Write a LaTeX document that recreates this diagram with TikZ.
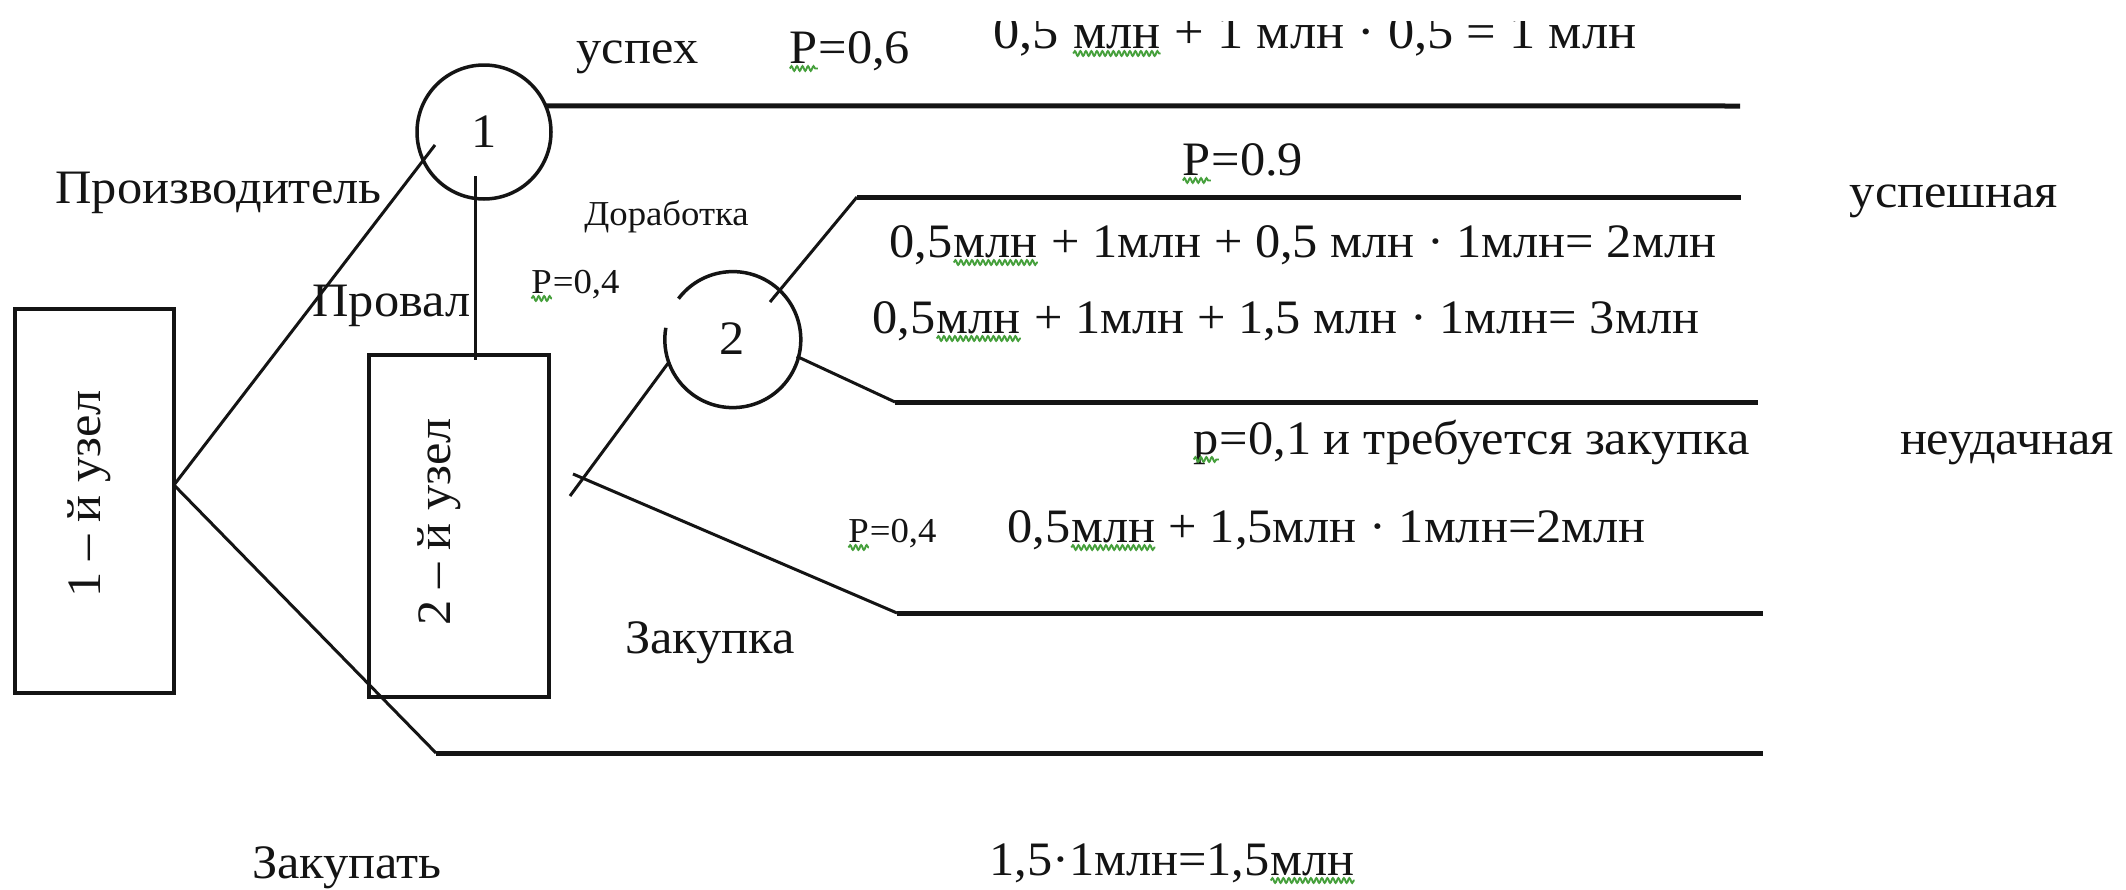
\documentclass[tikz,border=0pt]{standalone}
\usepackage{fontspec}
\setmainfont[FakeStretch=1.05]{Liberation Serif}
\usetikzlibrary{decorations.pathmorphing}

\definecolor{ink}{RGB}{20,20,20}
\definecolor{spell}{RGB}{70,160,60}

\tikzset{
  lbl/.style={inner sep=0pt, outer sep=0pt, anchor=base, text=ink,
    font=\fontsize{48}{56}\selectfont},
  lblsm/.style={lbl, font=\fontsize{35}{42}\selectfont},
  stage/.style={draw=ink, line width=4.5pt, inner sep=0pt, outer sep=0pt},
  chance/.style={circle, inner sep=0pt, outer sep=0pt, minimum size=134pt,
    text=ink, font=\fontsize{48}{56}\selectfont},
  ring/.style={draw=ink, line width=3.5pt},
  branch/.style={draw=ink, line width=3pt},
  rail/.style={draw=ink, line width=5pt},
  squig/.style={draw=spell, line width=1.9pt, decorate,
    decoration={snake, amplitude=2.4pt, segment length=5.5pt}}
}

% word marked with a wavy underline
\newcommand\spl[1]{\tikz[baseline=(w.base)]{%
  \node[inner sep=0pt, outer sep=0pt, anchor=base] (w) {#1};%
  \draw[squig] ([yshift=-5.5pt]w.base west) -- ([yshift=-5.5pt]w.base east);}}

\begin{document}
\begin{tikzpicture}[x=1pt, y=-1pt]
\fill[white] (0,0) rectangle (2126,889);
\useasboundingbox (0,0) rectangle (2126,889);

% decision boxes
\node[stage, minimum width=159pt, minimum height=384pt] (b1) at (94.5,501) {};
\node[lbl, anchor=center, rotate=90] (b1t) at (89,494) {1 – й узел};
\node[stage, minimum width=180pt, minimum height=342pt] (b2) at (459,526) {};
\node[lbl, anchor=center, rotate=90] (b2t) at (439,522) {2 – й узел};

% chance nodes
\node[chance] (c1) at (484,132) {1};
\draw[ring] (c1) circle[radius=67];
\node[chance] (c2) at (732,339) {2};
\draw[ring] (c2.143) arc[start angle=217, end angle=550, radius=68];

% branch points and line ends
\coordinate (f1) at (174,485);
\coordinate (c1in) at (435,145);
\coordinate (c1low) at (475,176);
\coordinate (b2top) at (475,360);
\coordinate (k5) at (436,753);
\coordinate (e5) at (1763,753);
\coordinate (e1) at (1740,106);
\coordinate (t2) at (570,496);
\coordinate (f2) at (573,474);
\coordinate (k4) at (897,613);
\coordinate (e4) at (1763,613);
\coordinate (c2in) at (770,302);
\coordinate (k2) at (857,197);
\coordinate (e2) at (1741,197);
\coordinate (k3) at (895,402);
\coordinate (e3) at (1758,402);

% first decision
\draw[branch] (f1) -- (c1in);
\draw[branch] (f1) -- (k5);
\draw[rail] (k5) -- (e5);
\draw[rail] (c1.23) -- (e1);
\draw[branch] (c1low) -- (b2top);

% second decision
\draw[branch] (t2) -- (c2.200);
\draw[branch] (f2) -- (k4);
\draw[rail] (k4) -- (e4);
\draw[branch] (c2in) -- (k2);
\draw[rail] (k2) -- (e2);
\draw[branch] (c2.-15) -- (k3);
\draw[rail] (k3) -- (e3);

% labels
\node[lbl] (uspeh) at (637.5,63) {успех};
\node[lbl] (p06) at (849.5,63) {\spl{Р}=0,6};
\begin{scope}
  \clip (0,21) rectangle (2126,120);
  \node[lbl, font=\fontsize{50}{58}\selectfont] (v1) at (1315,48)
    {0,5 \spl{млн} + 1 млн · 0,5 = 1 млн};
\end{scope}
\node[lbl] (prod) at (218.5,203) {Производитель};
\node[lbl] (proval) at (391.5,316) {Провал};
\node[lblsm] (dorab) at (666.5,225) {Доработка};
\node[lblsm] (p04a) at (575,293) {\spl{Р}=0,4};
\node[lbl] (p09) at (1242.5,175) {\spl{Р}=0.9};
\node[lbl] (ok) at (1954,207) {успешная};
\node[lbl] (va) at (1303,257) {0,5\spl{млн} + 1млн + 0,5 млн · 1млн= 2млн};
\node[lbl] (vb) at (1286,333) {0,5\spl{млн} + 1млн + 1,5 млн · 1млн= 3млн};
\node[lbl] (p01) at (1471,454) {\spl{р}=0,1 и требуется закупка};
\node[lbl] (fail) at (2007,454) {неудачная};
\node[lblsm] (p04b) at (892,542) {\spl{Р}=0,4};
\node[lbl] (vc) at (1326.5,542) {0,5\spl{млн} + 1,5млн · 1млн=2млн};
\node[lbl] (zakupka) at (710,653) {Закупка};
\node[lbl] (zakupat) at (347,878) {Закупать};
\node[lbl] (vd) at (1172.5,875) {1,5·1млн=1,5\spl{млн}};
\end{tikzpicture}
\end{document}
